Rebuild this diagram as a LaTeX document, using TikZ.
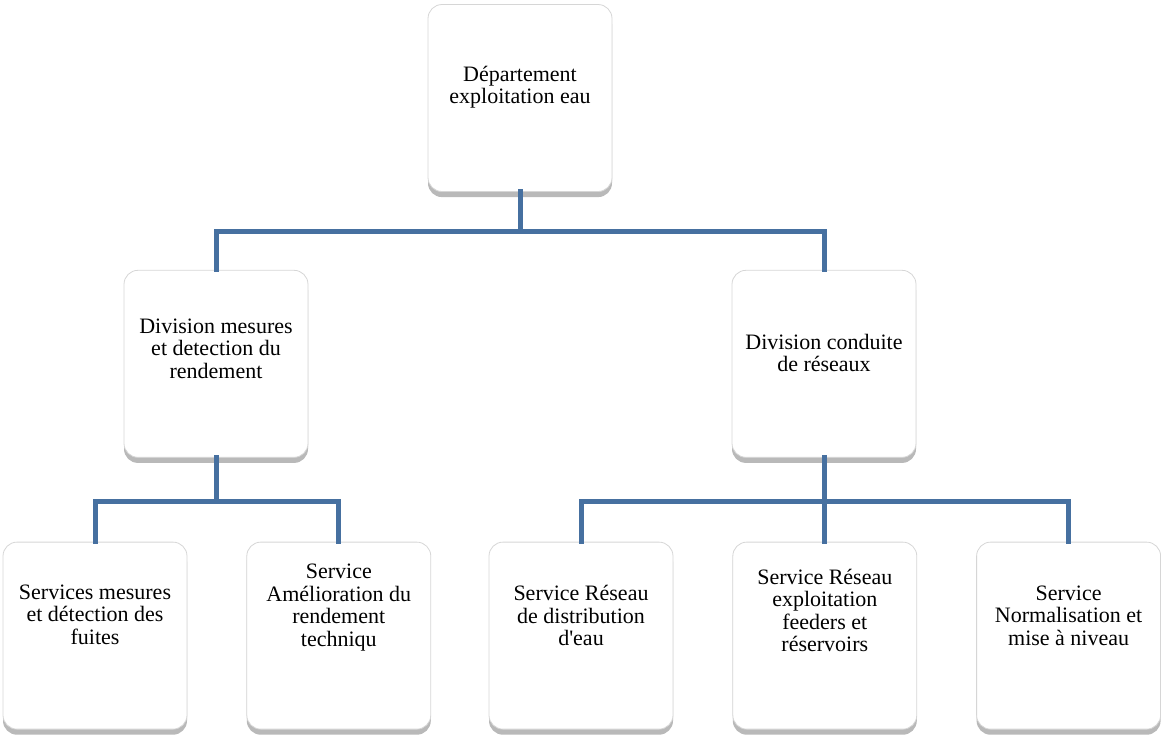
\documentclass[tikz,border=0pt]{standalone}
\usepackage{fontspec}
\setmainfont{Liberation Serif}
\usetikzlibrary{positioning,shadows}

\definecolor{linkblue}{RGB}{70,112,160}

\tikzset{
  orgbox/.style={rectangle,rounded corners=7pt,draw=black!16,fill=white,
    minimum width=92pt,minimum height=93.5pt,inner sep=0pt,
    drop shadow={shadow xshift=0pt,shadow yshift=-2.8pt,opacity=0.5,fill=black!55}},
  boxtext/.style={align=center,font=\fontsize{11}{11.2}\selectfont,inner sep=0pt},
  link/.style={draw=linkblue,line width=2.5pt,line join=miter,line cap=rect}
}

\begin{document}
\begin{tikzpicture}[node distance=29.5pt]

            \useasboundingbox (0pt,0pt) rectangle (580.5pt,-368pt);

            \node[orgbox] (dep) at (260pt,-49pt)
                 [label={[boxtext,name=dep-t,yshift=5.5pt]center:Département\\exploitation eau}] {};

            \node[orgbox] (dmes) [below=39pt of dep,xshift=-152pt]
                 [label={[boxtext,name=dmes-t,yshift=7.5pt]center:Division mesures\\et detection du\\rendement}] {};

            \node[orgbox] (dres) [below=39pt of dep,xshift=152pt]
                 [label={[boxtext,name=dres-t,yshift=5.5pt]center:Division conduite\\de réseaux}] {};

            \node[orgbox] (smes) [below=42pt of dmes,xshift=-60.5pt]
                 [label={[boxtext,name=smes-t,yshift=10.5pt]center:Services mesures\\et détection des\\fuites}] {};

            \node[orgbox] (samel) [right=of smes]
                 [label={[boxtext,name=samel-t,yshift=14pt]center:Service\\Amélioration du\\rendement\\techniqu}] {};

            \node[orgbox] (sdist) [below=42pt of dres,xshift=-121.5pt]
                 [label={[boxtext,name=sdist-t,yshift=10pt]center:Service Réseau\\de distribution\\d\textquotesingle eau}] {};

            \node[orgbox] (sfeed) [right=of sdist]
                 [label={[boxtext,name=sfeed-t,yshift=12.5pt]center:Service Réseau\\exploitation\\feeders et\\réservoirs}] {};

            \node[orgbox] (snorm) [right=of sfeed]
                 [label={[boxtext,name=snorm-t,yshift=10pt]center:Service\\Normalisation et\\mise à niveau}] {};

            

            \path[link] (dep.south) -- ++(0,-20pt) -| (dmes.north)

                        (dep.south) -- ++(0,-20pt) -| (dres.north)

                        (dmes.south) -- ++(0,-22pt) -| (smes.north)

                        (dmes.south) -- ++(0,-22pt) -| (samel.north)

                        (dres.south) -- ++(0,-22pt) -| (sdist.north)

                        (dres.south) -- ++(0,-22pt) -| (sfeed.north)

                        (dres.south) -- ++(0,-22pt) -| (snorm.north);

        \end{tikzpicture}
\end{document}
